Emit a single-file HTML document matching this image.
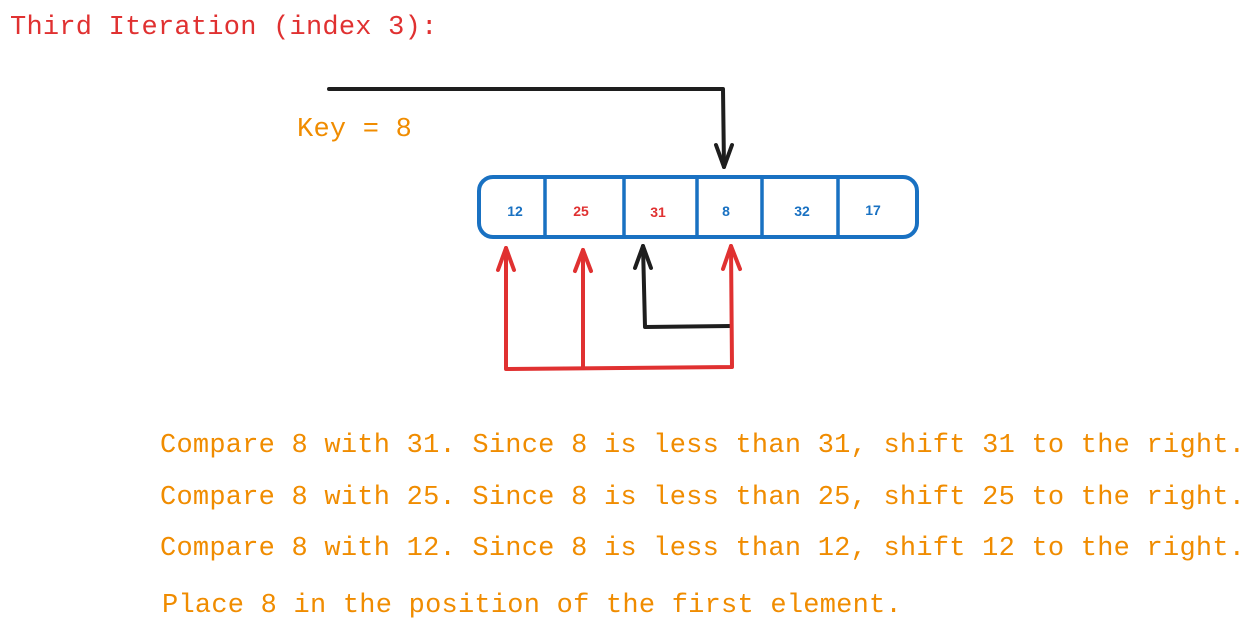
<!DOCTYPE html>
<html><head><style>
body{margin:0;width:1258px;height:631px;background:#fff;position:relative;overflow:hidden;font-family:"Liberation Mono",monospace;}
.t{position:absolute;font-size:27px;white-space:pre;line-height:1;letter-spacing:0.24px;}
</style></head><body>
<div class="t" style="left:10px;top:15px;color:#e03131">Third Iteration (index 3):</div>
<div class="t" style="left:297px;top:117px;color:#f08c00">Key = 8</div>
<div class="t" style="left:160px;top:433px;color:#f08c00">Compare 8 with 31. Since 8 is less than 31, shift 31 to the right.</div>
<div class="t" style="left:160px;top:485px;color:#f08c00">Compare 8 with 25. Since 8 is less than 25, shift 25 to the right.</div>
<div class="t" style="left:160px;top:536px;color:#f08c00">Compare 8 with 12. Since 8 is less than 12, shift 12 to the right.</div>
<div class="t" style="left:162px;top:593px;color:#f08c00">Place 8 in the position of the first element.</div>
<svg width="1258" height="631" style="position:absolute;left:0;top:0" fill="none" stroke-linecap="round" stroke-linejoin="round">
<rect x="479" y="177" width="438" height="60" rx="14" stroke="#1971c2" stroke-width="4"/>
<g stroke="#1971c2" stroke-width="3.5">
<line x1="545" y1="178" x2="545" y2="236"/><line x1="624" y1="178" x2="624" y2="236"/>
<line x1="697" y1="178" x2="697" y2="236"/><line x1="762" y1="178" x2="762" y2="236"/>
<line x1="838" y1="178" x2="838" y2="236"/></g>
<g font-family="Liberation Sans,sans-serif" font-size="14" font-weight="bold" text-anchor="middle" stroke="none">
<text x="515" y="216" fill="#1971c2">12</text><text x="581" y="216" fill="#e03131">25</text>
<text x="658" y="217" fill="#e03131">31</text><text x="726" y="216" fill="#1971c2">8</text>
<text x="802" y="216" fill="#1971c2">32</text><text x="873" y="215" fill="#1971c2">17</text></g>
<g stroke="#1e1e1e" stroke-width="4">
<path d="M329 89 L723 89 L724 167"/><path d="M716 145 L724 167 L732 145"/>
<path d="M731 326 L645 327 L643 246"/><path d="M635 268 L643 246 L651 268"/></g>
<g stroke="#e03131" stroke-width="4">
<path d="M506 248 L506 369 L732 367 L731 246"/><path d="M583 250 L583 368"/>
<path d="M498 270 L506 248 L514 270"/><path d="M575 271 L583 250 L591 271"/><path d="M723 269 L731 246 L740 269"/></g>
</svg>
</body></html>
